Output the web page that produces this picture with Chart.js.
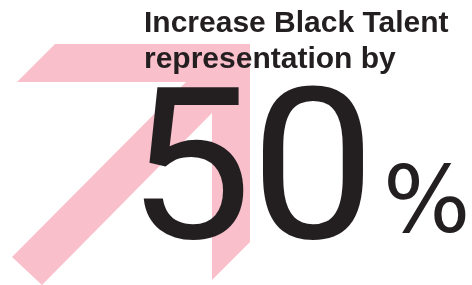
<!DOCTYPE html>
<html>
<head>
<meta charset="utf-8">
<script src="https://cdn.jsdelivr.net/npm/chart.js@4.4.1/dist/chart.umd.min.js"></script>
<style>
  html, body { margin: 0; padding: 0; background: #fff; }
  #wrap { position: relative; width: 472px; height: 285px; overflow: hidden; }
  #arrow { position: absolute; left: 0; top: 0; }
  .txt { position: absolute; color: #231f20; white-space: nowrap; }
  .head { font-family: "Liberation Sans", Arial, sans-serif; font-weight: bold; font-size: 30px; line-height: 36px; left: 144px; }
  .big {
    font-family: Roboto, sans-serif; font-weight: 400; font-size: 211px; line-height: 211px;
    left: 127px; top: 61px; letter-spacing: -1.5px;
    transform: scaleX(1.055); transform-origin: 0 0;
  }
  .pct { font-family: "DejaVu Sans", sans-serif; font-weight: normal; font-size: 92px; line-height: 92px; left: 383px; top: 155px; }
</style>
</head>
<body>
<div id="wrap">
  <canvas id="arrow" width="472" height="285"></canvas>
  <div class="txt head" id="line1" style="top:4px"></div>
  <div class="txt head" id="line2" style="top:40px"></div>
  <div class="txt big" id="value"></div>
  <div class="txt pct" id="unit"></div>
</div>
<script>
// Headline and the target figure
const headline = ['Increase Black Talent', 'representation by'];
const targetValue = [50];
const unitLabel = '%';

// Outline of the pink "up and to the right" arrow (x / y in chart units)
const arrowX = [55, 250, 250, 212, 212, 42, 12, 186, 17, 55];
const arrowY = [44, 44, 242, 280, 113, 285, 257, 82, 82, 44];

const pink = '#f9bfcb';

document.addEventListener('DOMContentLoaded', function() {
    document.getElementById('line1').textContent = headline[0];
    document.getElementById('line2').textContent = headline[1];
    document.getElementById('value').textContent = targetValue[0];
    document.getElementById('unit').textContent = unitLabel;

    const ctx = document.getElementById('arrow').getContext('2d');
    const points = arrowX.map((x, i) => ({ x: x, y: arrowY[i] }));

    new Chart(ctx, {
        type: 'scatter',
        data: {
            datasets: [{
                data: points,
                showLine: true,
                fill: 'shape',
                backgroundColor: pink,
                borderColor: pink,
                borderWidth: 0,
                pointRadius: 0,
                tension: 0
            }]
        },
        options: {
            responsive: false,
            animation: false,
            layout: { padding: 0 },
            plugins: {
                legend: { display: false },
                tooltip: { enabled: false }
            },
            scales: {
                x: { type: 'linear', min: 0, max: 472, display: false },
                y: { type: 'linear', min: 0, max: 285, reverse: true, display: false }
            }
        }
    });
});
</script>
</body>
</html>
